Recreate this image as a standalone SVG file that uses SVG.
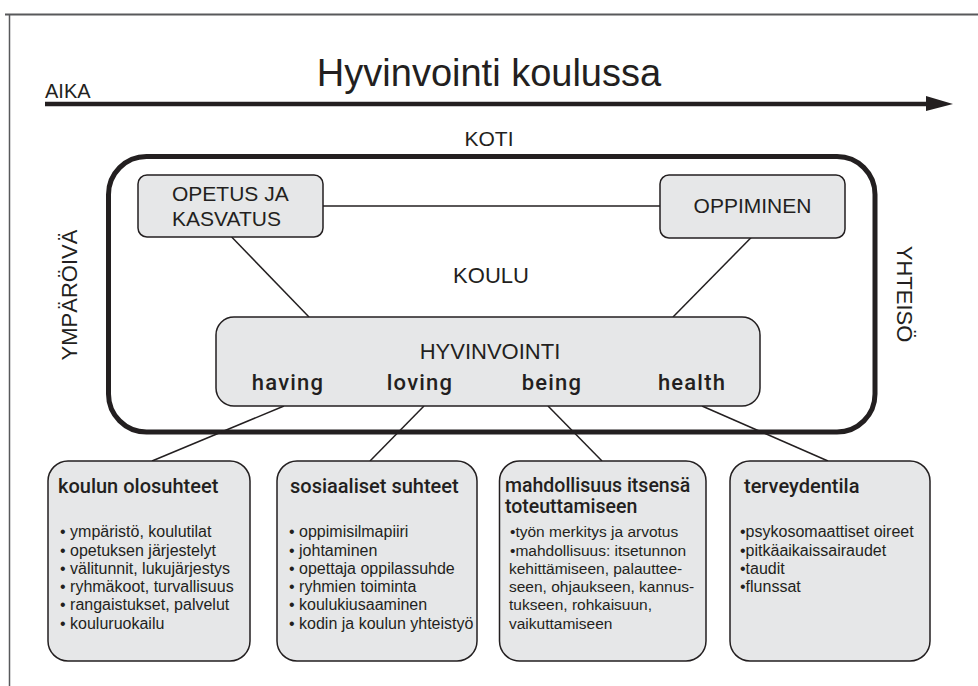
<svg xmlns="http://www.w3.org/2000/svg" width="978" height="686" viewBox="0 0 978 686">
<style>
text{font-family:"Liberation Sans",Arial,sans-serif;fill:#231f20}
.cap{font-size:21px}
.head{font-family:Roboto,"Liberation Sans",sans-serif;font-weight:500;font-size:20px}
.head3{font-family:Roboto,"Liberation Sans",sans-serif;font-weight:500;font-size:19.5px}
.dim{font-family:Roboto,"Liberation Sans",sans-serif;font-weight:500;font-size:22px;letter-spacing:1.2px}
.bl{font-size:16px}
.bl3{font-size:15.5px}
.box{fill:#e6e7e8;stroke:#231f20;stroke-width:1.5}
.ln{stroke:#231f20;stroke-width:1.5;fill:none}
</style>
<rect width="978" height="686" fill="#ffffff"/>
<g id="frame">
<line x1="5" y1="14.5" x2="978" y2="14.5" stroke="#58595b" stroke-width="2"/>
<line x1="9.5" y1="14" x2="9.5" y2="686" stroke="#58595b" stroke-width="1.5"/>
</g>
<g id="title">
<text x="489" y="86" text-anchor="middle" style="font-size:38px">Hyvinvointi koulussa</text>
</g>
<g id="aika">
<text x="45" y="98" style="font-size:20px">AIKA</text>
<line x1="45" y1="104" x2="930" y2="104" stroke="#231f20" stroke-width="4.5"/>
<polygon points="926,96 953,104 926,111" fill="#231f20"/>
</g>
<g id="koti">
<text x="489" y="146" text-anchor="middle" class="cap">KOTI</text>
</g>
<g id="ymparoiva">
<text transform="translate(77,295) rotate(-90)" text-anchor="middle" style="font-size:22px">YMPÄRÖIVÄ</text>
</g>
<g id="yhteiso">
<text transform="translate(897,294) rotate(90)" text-anchor="middle" style="font-size:22px">YHTEISÖ</text>
</g>
<g id="koulu">
<rect x="108.5" y="156.5" width="766.5" height="275.5" rx="38" fill="none" stroke="#231f20" stroke-width="5"/>
<text x="491" y="283" text-anchor="middle" style="font-size:22px">KOULU</text>
</g>
<g id="connectors">
<line class="ln" x1="323" y1="206" x2="660" y2="206"/>
<line class="ln" x1="231.7" y1="237" x2="309" y2="317"/>
<line class="ln" x1="751.7" y1="237" x2="673" y2="317"/>
<line class="ln" x1="284" y1="406" x2="152" y2="461"/>
<line class="ln" x1="424" y1="406" x2="370" y2="461"/>
<line class="ln" x1="548" y1="406" x2="602" y2="461"/>
<line class="ln" x1="702" y1="406" x2="828" y2="461"/>
</g>
<g id="opetus">
<rect class="box" x="138" y="175" width="185" height="62" rx="9"/>
<text class="cap"><tspan x="172" y="201">OPETUS JA</tspan><tspan x="172" y="226">KASVATUS</tspan></text>
</g>
<g id="oppiminen">
<rect class="box" x="660" y="175" width="185" height="63" rx="9"/>
<text x="752.5" y="213" text-anchor="middle" class="cap">OPPIMINEN</text>
</g>
<g id="hyvinvointi">
<rect class="box" x="216" y="317" width="544" height="89" rx="18"/>
<text x="490" y="359" text-anchor="middle" style="font-size:22px">HYVINVOINTI</text>
<text x="288" y="390" text-anchor="middle" class="dim">having</text>
<text x="420" y="390" text-anchor="middle" class="dim">loving</text>
<text x="552" y="390" text-anchor="middle" class="dim">being</text>
<text x="692" y="390" text-anchor="middle" class="dim">health</text>
</g>
<g id="olosuhteet">
<rect class="box" x="48" y="461" width="202" height="200" rx="20"/>
<text x="58" y="493" class="head">koulun olosuhteet</text>
<text class="bl">
<tspan x="60" y="537">• ympäristö, koulutilat</tspan>
<tspan x="60" y="555.5">• opetuksen järjestelyt</tspan>
<tspan x="60" y="573.8">• välitunnit, lukujärjestys</tspan>
<tspan x="60" y="592.1">• ryhmäkoot, turvallisuus</tspan>
<tspan x="60" y="610.4">• rangaistukset, palvelut</tspan>
<tspan x="60" y="628.7">• kouluruokailu</tspan>
</text>
</g>
<g id="sosiaaliset">
<rect class="box" x="277" y="461" width="200" height="200" rx="20"/>
<text x="290" y="493" class="head">sosiaaliset suhteet</text>
<text class="bl">
<tspan x="289" y="537">• oppimisilmapiiri</tspan>
<tspan x="289" y="555.5">• johtaminen</tspan>
<tspan x="289" y="573.8">• opettaja oppilassuhde</tspan>
<tspan x="289" y="592.1">• ryhmien toiminta</tspan>
<tspan x="289" y="610.4">• koulukiusaaminen</tspan>
<tspan x="289" y="628.7">• kodin ja koulun yhteistyö</tspan>
</text>
</g>
<g id="mahdollisuus">
<rect class="box" x="499.5" y="461" width="206.5" height="200" rx="20"/>
<text class="head3"><tspan x="505" y="492">mahdollisuus itsensä</tspan><tspan x="505" y="513">toteuttamiseen</tspan></text>
<text class="bl3">
<tspan x="510" y="537">•työn merkitys ja arvotus</tspan>
<tspan x="510" y="555.5">•mahdollisuus: itsetunnon</tspan>
<tspan x="509" y="573.8">kehittämiseen, palauttee-</tspan>
<tspan x="509" y="592.1">seen, ohjaukseen, kannus-</tspan>
<tspan x="509" y="610.4">tukseen, rohkaisuun,</tspan>
<tspan x="509" y="628.7">vaikuttamiseen</tspan>
</text>
</g>
<g id="terveydentila">
<rect class="box" x="730" y="461" width="200" height="200" rx="20"/>
<text x="744" y="493" class="head">terveydentila</text>
<text class="bl">
<tspan x="740" y="537">•psykosomaattiset oireet</tspan>
<tspan x="740" y="555.5">•pitkäaikaissairaudet</tspan>
<tspan x="740" y="573.8">•taudit</tspan>
<tspan x="740" y="592.1">•flunssat</tspan>
</text>
</g>
</svg>
